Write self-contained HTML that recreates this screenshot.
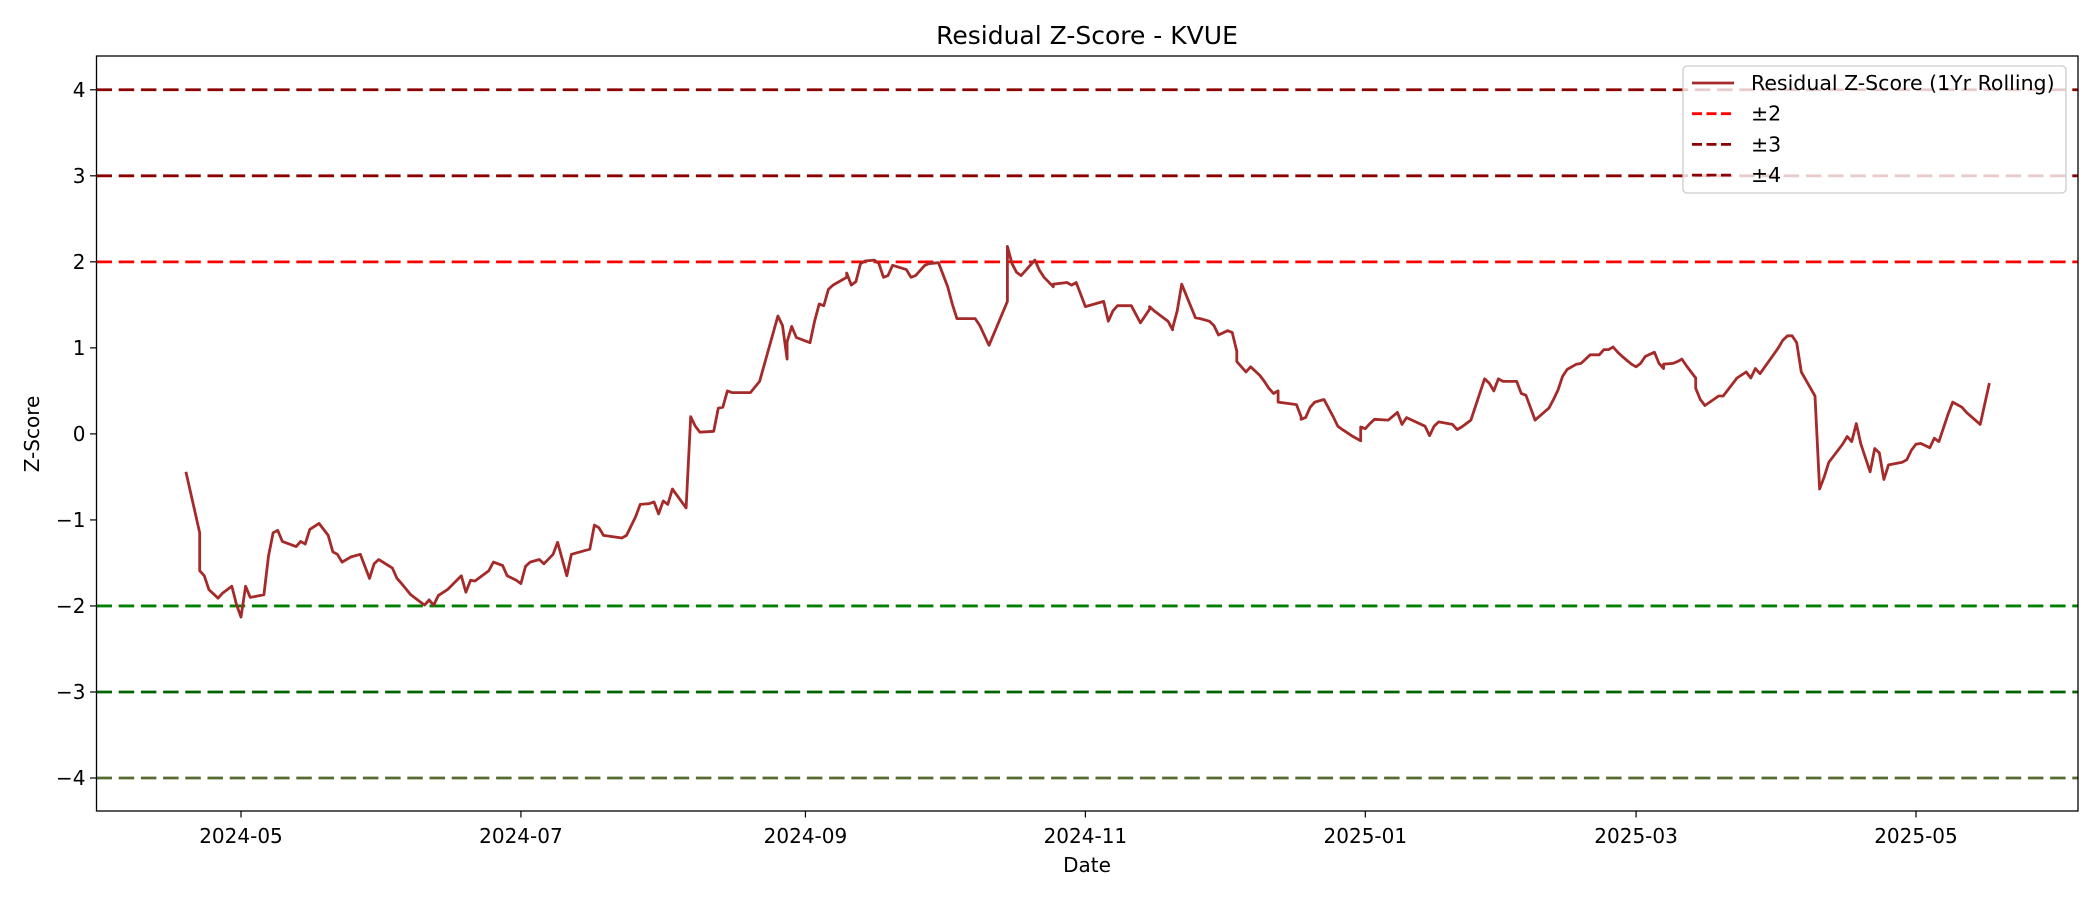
<!DOCTYPE html>
<html><head><meta charset="utf-8">
<style>
html,body{margin:0;padding:0;background:#fff;}
svg{display:block;font-family:"DejaVu Sans","Liberation Sans",sans-serif;}
</style></head>
<body>
<svg id="chart" width="2100" height="900" viewBox="0 0 2100 900" xmlns="http://www.w3.org/2000/svg">
<rect width="2100" height="900" fill="#fff"/>
<text x="1087" y="44" font-size="25" text-anchor="middle" fill="#000">Residual Z-Score - KVUE</text>
<g id="grid"></g>
<g id="series"></g>
<rect x="96.5" y="56" width="1981.5" height="755" fill="none" stroke="#000" stroke-width="1.3"/>
<g id="ticks"></g>
<text x="1087" y="872" font-size="20" text-anchor="middle">Date</text>
<text transform="translate(39,434) rotate(-90)" font-size="20" text-anchor="middle">Z-Score</text>
<g id="legend"></g>
</svg>
<script>
// day offsets from 2024-05-01
const days = [-12,-9,-9,-8,-7,-5,-4,-2,-1,0,1,2,5,6,7,8,9,12,13,14,15,17,19,20,21,22,24,26,28,29,30,33,34,35,37,39,40,41,42,43,45,48,49,50,51,54,55,57,58,60,61,62,63,65,66,68,69,71,72,76,77,78,79,83,84,85,86,87,89,90,91,92,93,94,97,98,99,100,103,104,105,106,107,111,113,
117,118,119,119,120,121,124,125,126,127,128,129,132,132,133,134,135,136,138,139,140,141,142,145,146,147,149,150,152,154,155,156,160,161,163,167,167,168,169,170,173,174,175,177,177,180,181,182,184,188,189,190,191,194,195,196,198,198,199,202,203,203,204,205,208,209,211,212,213,215,216,217,217,219,220,222,223,224,225,226,226,230,231,231,232,233,234,236,238,239,240,242,244,244,245,246,247,250,252,253,254,258,259,260,261,264,265,266,268,271,272,273,274,275,278,279,280,282,285,286,287,288,289,291,292,293,294,296,297,298,299,300,301,303,304,305,306,308,309,310,310,312,313,314,315,316,317,317,318,319,322,323,324,326,328,329,330,331,335,336,337,338,339,340,343,344,345,346,349,350,351,352,353,355,356,357,358,359,362,363,364,365,366,368,369,370,372,373,375,376,379,381];
const zscores = [-0.44,-1.15,-1.59,-1.65,-1.81,-1.91,-1.85,-1.77,-1.98,-2.13,-1.77,-1.90,-1.87,-1.42,-1.15,-1.12,-1.25,-1.31,-1.25,-1.28,-1.11,-1.04,-1.18,-1.37,-1.40,-1.49,-1.43,-1.40,-1.68,-1.51,-1.46,-1.56,-1.68,-1.74,-1.87,-1.95,-1.99,-1.93,-1.99,-1.88,-1.81,-1.65,-1.84,-1.70,-1.71,-1.59,-1.49,-1.53,-1.65,-1.70,-1.74,-1.54,-1.49,-1.46,-1.51,-1.40,-1.26,-1.65,-1.40,-1.34,-1.06,-1.09,-1.18,-1.21,-1.18,-1.07,-0.96,-0.82,-0.81,-0.79,-0.93,-0.78,-0.82,-0.64,-0.86,0.20,0.09,0.02,0.03,0.30,0.31,0.50,0.48,0.48,0.61,
1.37,1.26,0.87,1.07,1.25,1.12,1.06,1.31,1.51,1.49,1.68,1.73,1.82,1.87,1.73,1.77,1.98,2.01,2.02,1.98,1.82,1.84,1.96,1.91,1.82,1.84,1.96,1.98,1.99,1.71,1.51,1.34,1.34,1.26,1.03,1.54,2.18,1.98,1.88,1.84,2.02,1.90,1.82,1.71,1.74,1.76,1.73,1.76,1.48,1.54,1.31,1.43,1.49,1.49,1.39,1.29,1.45,1.48,1.43,1.31,1.21,1.23,1.43,1.74,1.35,1.34,1.31,1.26,1.15,1.20,1.18,0.96,0.84,0.72,0.78,0.68,0.61,0.53,0.47,0.50,0.37,0.34,0.20,0.17,0.19,0.31,0.37,0.40,0.20,0.09,0.05,-0.02,-0.08,0.08,0.06,0.12,0.17,0.16,0.25,0.11,0.19,0.09,-0.02,0.09,0.14,0.11,0.05,0.08,0.16,0.64,0.59,0.50,0.64,0.61,0.61,0.47,0.45,0.16,0.30,0.40,0.51,0.67,0.75,0.81,0.82,0.87,0.92,0.92,0.98,0.98,1.01,0.95,0.90,0.81,0.78,0.82,0.90,0.95,0.82,0.76,0.81,0.82,0.84,0.87,0.79,0.72,0.65,0.53,0.40,0.33,0.44,0.44,0.51,0.65,0.72,0.65,0.76,0.70,1.00,1.09,1.14,1.14,1.06,0.72,0.44,-0.64,-0.50,-0.33,-0.12,-0.03,-0.09,0.12,-0.12,-0.44,-0.17,-0.22,-0.53,-0.36,-0.33,-0.30,-0.19,-0.12,-0.11,-0.16,-0.05,-0.09,0.23,0.37,0.31,0.25,0.11,0.59];
const yTicks = [-4,-3,-2,-1,0,1,2,3,4];
const xTickLabels = ["2024-05","2024-07","2024-09","2024-11","2025-01","2025-03","2025-05"];
const xTickDays = [0,61,123,184,245,304,365];
const refLevels = [2,-2,3,-3,4,-4];
const refColors = ["#ff0000","#008000","#8b0000","#006400","#8b0000","#556b2f"];

const NS="http://www.w3.org/2000/svg";
const L=96.5,R=2078,T=56,B=811;
function xs(d){return 241+d*4.589;}
function ys(v){return 433.9-v*86.03;}
function mk(tag,attrs,parent){const e=document.createElementNS(NS,tag);for(const k in attrs)e.setAttribute(k,attrs[k]);parent.appendChild(e);return e;}

const grid=document.getElementById('grid');
refLevels.forEach((lv,i)=>{
  const l=mk('line',{x1:L,x2:R,y1:ys(lv),y2:ys(lv),stroke:refColors[i],'stroke-width':2.8,'stroke-dasharray':'15.5 6.7'},grid);
  
  
});

const series=document.getElementById('series');
let dstr=days.map((d,i)=>(i?'L':'M')+xs(d).toFixed(1)+' '+ys(zscores[i]).toFixed(1)).join(' ');
const p=mk('path',{d:dstr,fill:'none',stroke:'#a52a2a','stroke-width':2.8,'stroke-linejoin':'round'},series);



const tk=document.getElementById('ticks');
yTicks.forEach(v=>{
  const y=ys(v);
  const l=mk('line',{x1:L-6.5,x2:L,y1:y,y2:y,stroke:'#000','stroke-width':1.2},tk);
  
  
  const t=mk('text',{x:L-11,y:y+7,'font-size':20,'text-anchor':'end'},tk);
  t.textContent=(v<0?'\u2212':'')+Math.abs(v);
  
  
});
xTickDays.forEach((d,i)=>{
  const x=xs(d);
  const l=mk('line',{x1:x,x2:x,y1:B,y2:B+6.5,stroke:'#000','stroke-width':1.2},tk);
  
  
  const t=mk('text',{x:x,y:B+32,'font-size':20,'text-anchor':'middle'},tk);
  t.textContent=xTickLabels[i];
  
  
});

const lg=document.getElementById('legend');


const box=mk('rect',{x:1683,y:66,width:383,height:127,rx:4,fill:'rgba(255,255,255,0.8)',stroke:'#cccccc','stroke-width':1.3},lg);


const entries=[["Residual Z-Score (1Yr Rolling)","#a52a2a",null],["\u00b12","#ff0000","10 4.5"],["\u00b13","#8b0000","10 4.5"],["\u00b14","#8b0000","10 4.5"]];
entries.forEach((e,i)=>{
  const y=83+i*30.7;
  const a={x1:1692,x2:1734,y1:y,y2:y,stroke:e[1],'stroke-width':2.8};
  if(e[2])a['stroke-dasharray']=e[2];
  const l=mk('line',a,lg);
  
  
  const t=mk('text',{x:1751,y:y+7,'font-size':20.5},lg);
  t.textContent=e[0];
  
  
});
</script>
</body></html>
